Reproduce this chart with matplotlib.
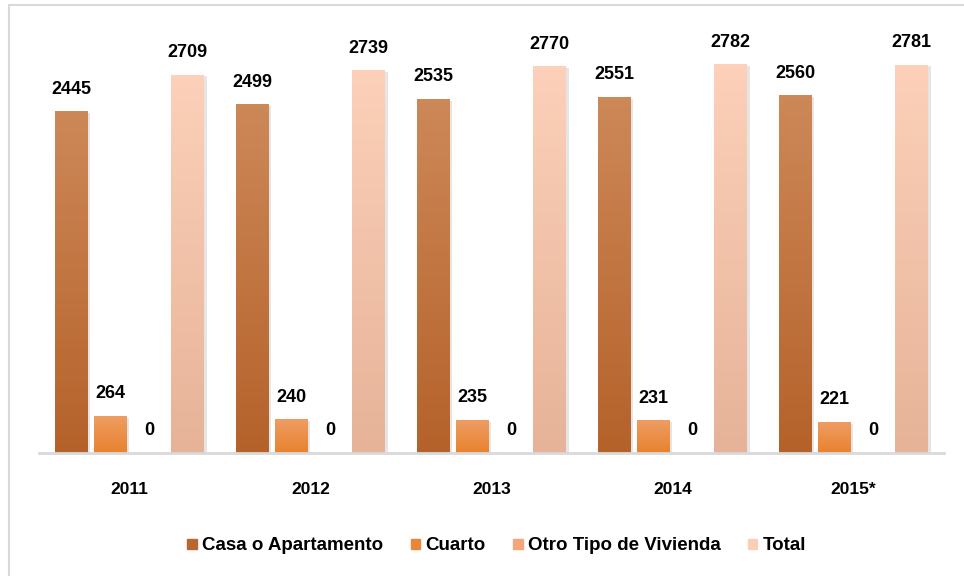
import numpy as np
import matplotlib.pyplot as plt
import matplotlib.patheffects as pe
from matplotlib.colors import LinearSegmentedColormap
from matplotlib.patches import Rectangle

plt.rcParams['font.family'] = ['Liberation Sans', 'DejaVu Sans']

# data
years = ['2011', '2012', '2013', '2014', '2015*']
series = ['Casa o Apartamento', 'Cuarto', 'Otro Tipo de Vivienda', 'Total']
casa = [2445, 2499, 2535, 2551, 2560]
cuarto = [264, 240, 235, 231, 221]
otro = [0, 0, 0, 0, 0]
total = [2709, 2739, 2770, 2782, 2781]

# gradient (top, bottom) and legend colour per series
grads = [('#CD8858', '#B5622A'), ('#EE9D62', '#E8822F'),
         ('#F6B08A', '#F09A68'), ('#FCD0B9', '#E6B398')]
legend_cols = ['#B8682E', '#E8863A', '#F4A67A', '#FBCEB8']

fig = plt.figure(figsize=(9.64, 5.76), dpi=100)
ax = fig.add_axes([39 / 964, 1 - 453 / 576, 905 / 964, 418.5 / 576])

x = np.arange(len(years))
slot = 0.215
width = 0.182
values = [casa, cuarto, otro, total]

handles = []
for i, vals in enumerate(values):
    pos = x + (i - 1.5) * slot
    bars = ax.bar(pos, vals, width, color=grads[i][1], zorder=2,
                  path_effects=[pe.SimplePatchShadow(offset=(2, -1), shadow_rgbFace='#999999', alpha=0.25),
                                pe.Normal()])
    for b, v in zip(bars, vals):
        if v > 0:
            cmap = LinearSegmentedColormap.from_list('g', [grads[i][1], grads[i][0]])
            grad = np.linspace(0, 1, 100).reshape(-1, 1)
            ax.imshow(grad, extent=[b.get_x(), b.get_x() + b.get_width(), 0, v],
                      origin='lower', aspect='auto', cmap=cmap, zorder=3)
        ax.annotate(str(v), (b.get_x() + b.get_width() / 2, v), xytext=(0, 10),
                    textcoords='offset points', ha='center', va='bottom',
                    fontsize=13, fontweight='bold', color='black', zorder=5)
    handles.append(Rectangle((0, 0), 1, 1, color=legend_cols[i]))

ax.set_xlim(-0.5, len(years) - 0.5)
ax.set_ylim(0, 3000)
ax.set_xticks(x)
ax.set_xticklabels(years, fontsize=12.5, fontweight='bold')
ax.tick_params(axis='x', length=0, pad=21)
ax.set_yticks([])
for s in ['top', 'right', 'left']:
    ax.spines[s].set_visible(False)
ax.spines['bottom'].set_color('#D9D9D9')
ax.spines['bottom'].set_linewidth(2)
ax.spines['bottom'].set_zorder(4)

fig.legend(handles, series, loc='center', bbox_to_anchor=(497 / 964, 1 - 546 / 576),
           ncol=4, frameon=False, prop={'weight': 'bold', 'size': 13.5},
           handlelength=0.5, handleheight=0.5, handletextpad=0.3, columnspacing=1.45)

fig.patches.append(Rectangle((9 / 964, -0.1), 1.2, 1 - 5 / 576 + 0.1, transform=fig.transFigure,
                             fill=False, edgecolor='#D9D9D9', lw=1.5))

fig.savefig('out.png', dpi=100)
